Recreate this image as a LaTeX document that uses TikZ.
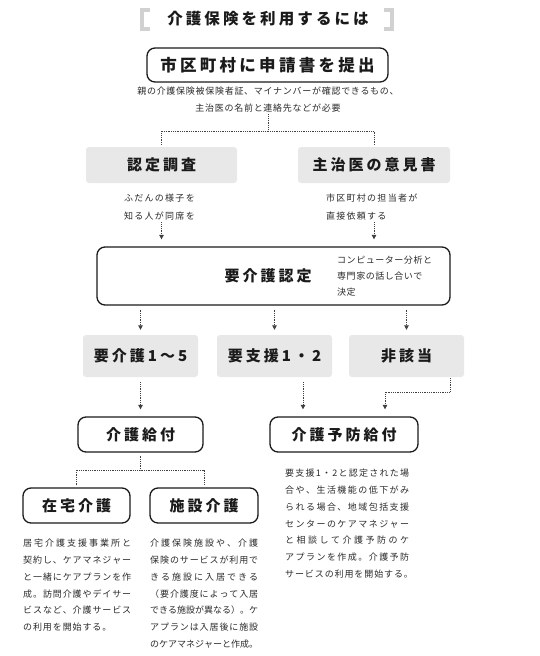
\documentclass[tikz,border=0pt]{standalone}
\usepackage{fontspec}
\usetikzlibrary{arrows.meta}
\newfontfamily\jpR{Noto Sans CJK JP}
\newfontfamily\jpB{Noto Sans CJK JP}[LetterSpace=20]
\definecolor{boxgray}{HTML}{E8E8E8}
\definecolor{ink}{HTML}{1A1A1A}
\definecolor{txt}{HTML}{2A2A2A}
\newlength{\jlw}
\makeatletter
\def\jlend{\jlend}
\def\jlfirst#1{#1\jlrest}
\def\jlrest#1{\ifx#1\jlend\else\nobreak\hskip0pt plus 1pt\relax#1\expandafter\jlrest\fi}
\newcommand{\jl}[1]{\makebox[\jlw][s]{\jlfirst#1\jlend}}
\makeatother
\begin{document}
\begin{tikzpicture}[x=1pt,y=-1pt,
  hd/.style={font=\jpB\bfseries\fontsize{15}{18}\selectfont, text=ink, inner sep=0pt},
  rbox/.style={hd, draw=ink, line width=1.3pt, rounded corners=8pt},
  gbox/.style={hd, fill=boxgray, rounded corners=3pt},
  note/.style={font=\jpR\addfontfeature{LetterSpace=10}\fontsize{9}{16.8}\selectfont, text=txt, inner sep=0pt, align=left},
  dotline/.style={draw=black!75, line width=0.9pt, dash pattern=on 0.9pt off 0.9pt},
  darr/.style={dotline, -{Triangle[length=4.5pt,width=4.5pt]}},
  bracket/.style={draw=black!18, line width=3.5pt}]
\useasboundingbox (0,0) rectangle (540,656);
% title
\node[hd, font=\jpB\bfseries\fontsize{15.5}{18}\selectfont] (title) at (268,19) {介護保険を利用するには};
\draw[bracket] (150,10) -- (142,10) -- (142,29) -- (150,29);
\draw[bracket] (384,10) -- (392,10) -- (392,29) -- (384,29);
% apply
\node[rbox, minimum width=241pt, minimum height=34pt, font=\jpB\bfseries\fontsize{16.5}{20}\selectfont] (apply) at (267.5,65) {市区町村に申請書を提出};
\node[note, align=center, font=\jpR\addfontfeature{LetterSpace=8}\fontsize{9}{17}\selectfont] (needs) at (268,99.5) {親の介護保険被保険者証、マイナンバーが確認できるもの、\\主治医の名前と連絡先などが必要};
% survey boxes
\node[gbox, minimum width=151pt, minimum height=36pt] (nintei) at (161.5,165) {認定調査};
\node[gbox, minimum width=152pt, minimum height=36pt] (ikensho) at (374,165) {主治医の意見書};
\coordinate (split1) at (268,131);
\draw[dotline, shorten <=2pt] (needs.south) -- (split1);
\draw[dotline, shorten <=2pt, shorten >=2pt] (nintei.north) |- (split1) -| (ikensho.north);
\node[note, anchor=west, font=\jpR\addfontfeature{LetterSpace=14}\fontsize{9}{18}\selectfont] (n2) at (124,207) {ふだんの様子を\\知る人が同席を};
\node[note, anchor=west, font=\jpR\addfontfeature{LetterSpace=14}\fontsize{9}{18}\selectfont] (n3) at (326,207) {市区町村の担当者が\\直接依頼する};
% certification
\node[rbox, minimum width=353pt, minimum height=58pt] (youkaigo) at (273.5,276) {};
\node[hd] (youkaigoT) at (268,276) {要介護認定};
\node[note, anchor=west, font=\jpR\addfontfeature{LetterSpace=6}\fontsize{9}{16}\selectfont] (n4) at (337,276) {コンピューター分析と\\専門家の話し合いで\\決定};
\draw[darr, shorten <=2pt, shorten >=7pt] (n2.south -| nintei.south) -- (nintei.south |- youkaigo.north);
\draw[darr, shorten <=2pt, shorten >=7pt] (n3.south -| ikensho.south) -- (ikensho.south |- youkaigo.north);
% results
\node[gbox, minimum width=115pt, minimum height=42pt] (kaigo15) at (140.5,356) {要介護1～5};
\node[gbox, minimum width=115pt, minimum height=42pt] (shien) at (274.5,356) {要支援1・2};
\node[gbox, minimum width=115pt, minimum height=42pt] (higai) at (406.5,356) {非該当};
\draw[darr, shorten <=4pt, shorten >=5pt] (kaigo15.north |- youkaigo.south) -- (kaigo15.north);
\draw[darr, shorten <=4pt, shorten >=5pt] (shien.north |- youkaigo.south) -- (shien.north);
\draw[darr, shorten <=4pt, shorten >=5pt] (higai.north |- youkaigo.south) -- (higai.north);
% benefits
\node[rbox, minimum width=125pt, minimum height=35pt] (kyufu) at (140.5,434.5) {介護給付};
\node[rbox, minimum width=148pt, minimum height=35pt] (yobo) at (344,434.5) {介護予防給付};
\draw[darr, shorten <=5pt, shorten >=7pt] (kaigo15.south) -- (kaigo15.south |- kyufu.north);
\draw[darr, shorten <=5pt, shorten >=7pt] ([xshift=28.5pt]shien.south) -- ([xshift=28.5pt]shien.south |- yobo.north);
\draw[darr, shorten <=1pt, shorten >=7pt] ([xshift=43.5pt]higai.south) -- ++(0,15) -| ([xshift=41pt]yobo.north);
% care types
\node[rbox, minimum width=107pt, minimum height=35pt] (zaitaku) at (76.5,505.5) {在宅介護};
\node[rbox, minimum width=108pt, minimum height=35pt] (shisetsu) at (204,505.5) {施設介護};
\coordinate (split2) at (140.5,470);
\draw[dotline, shorten <=3pt] (kyufu.south) -- (split2);
\draw[dotline, shorten <=2pt, shorten >=2pt] (zaitaku.north) |- (split2) -| (shisetsu.north);
% texts
\setlength{\jlw}{108pt}
\node[note, anchor=north west] (n5) at (23,539) {\jl{居宅介護支援事業所と}\\\jl{契約し、ケアマネジャー}\\\jl{と一緒にケアプランを作}\\\jl{成。訪問介護やデイサー}\\\jl{ビスなど、介護サービス}\\の利用を開始する。};
\node[note, anchor=north west] (n6) at (150,539) {\jl{介護保険施設や、介護}\\\jl{保険のサービスが利用で}\\\jl{きる施設に入居できる}\\\jl{（要介護度によって入居}\\\jl{できる施設が異なる）。ケ}\\\jl{アプランは入居後に施設}\\\jl{のケアマネジャーと作成。}};
\setlength{\jlw}{124pt}
\node[note, anchor=north west] (n7) at (285,469) {\jl{要支援1・2と認定された場}\\\jl{合や、生活機能の低下がみ}\\\jl{られる場合、地域包括支援}\\\jl{センターのケアマネジャー}\\\jl{と相談して介護予防のケ}\\\jl{アプランを作成。介護予防}\\サービスの利用を開始する。};
\end{tikzpicture}
\end{document}
